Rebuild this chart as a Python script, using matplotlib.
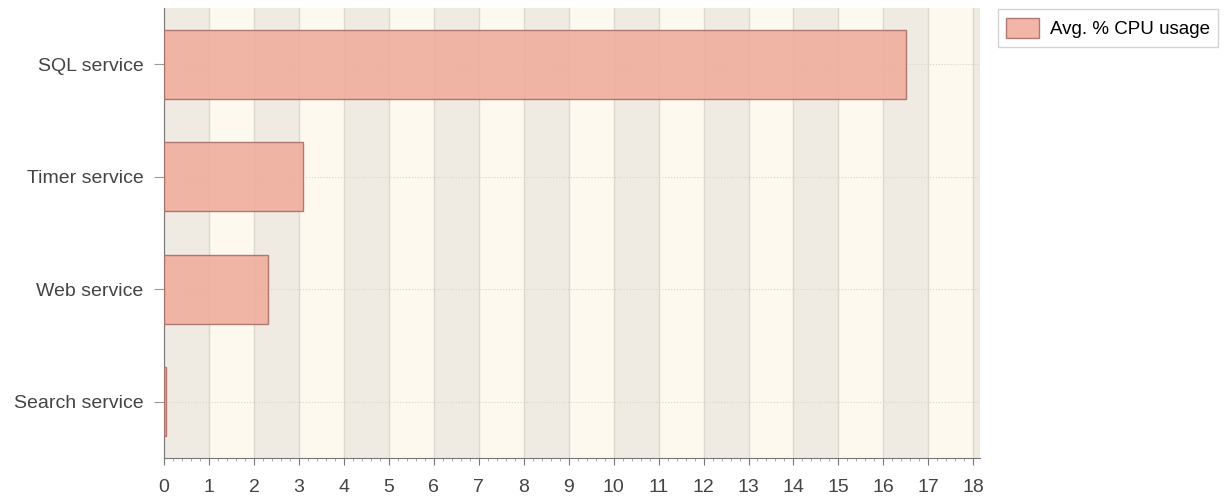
import matplotlib.pyplot as plt
import numpy as np
from matplotlib.ticker import MultipleLocator

# Dados
services = ['Search service', 'Web service', 'Timer service', 'SQL service']
cpu = [0.05, 2.3, 3.1, 16.5]
legend_label = 'Avg. % CPU usage'

plt.rcParams['font.family'] = ['Liberation Sans', 'DejaVu Sans']

fig = plt.figure(figsize=(12.25, 5), dpi=100)
ax = fig.add_axes([0.134, 0.084, 0.666, 0.9])

xmax = 18.15
ax.set_xlim(0, xmax)
ax.set_ylim(-0.5, len(services) - 0.5)
ax.set_facecolor('#fdf9ee')

# faixas alternadas
for i in range(0, 19, 2):
    ax.axvspan(i, min(i + 1, xmax), color='#efebe3', zorder=0, lw=0)

ax.grid(axis='x', color='#dcd8cc', lw=1, zorder=1)
ax.grid(axis='y', color='#d8d4c8', lw=0.8, ls=':', zorder=1)

y = np.arange(len(services))
ax.barh(y, cpu, height=0.61, color='#f0ae9e', edgecolor='#a86e68', lw=1,
        alpha=0.9, label=legend_label, zorder=3)

ax.set_yticks(y)
ax.set_yticklabels(services, fontsize=14, color='#444444')
ax.xaxis.set_major_locator(MultipleLocator(1))
ax.xaxis.set_minor_locator(MultipleLocator(0.2))
ax.tick_params(axis='x', labelsize=14, labelcolor='#444444', color='#777777',
               length=5, pad=10)
ax.tick_params(axis='x', which='minor', color='#999999', length=2.5)
ax.tick_params(axis='y', color='#999999', length=7, pad=8)

for s in ['top', 'right']:
    ax.spines[s].set_visible(False)
for s in ['left', 'bottom']:
    ax.spines[s].set_color('#777777')

leg = ax.legend(loc='upper left', bbox_to_anchor=(1.022, 0.997), fontsize=13.5,
                frameon=True, fancybox=False, edgecolor='#c8c8c8',
                handlelength=1.75, handleheight=1.3, borderpad=0.45,
                handletextpad=0.55, borderaxespad=0)
leg.get_frame().set_linewidth(1)

fig.savefig('out.png', dpi=100)
